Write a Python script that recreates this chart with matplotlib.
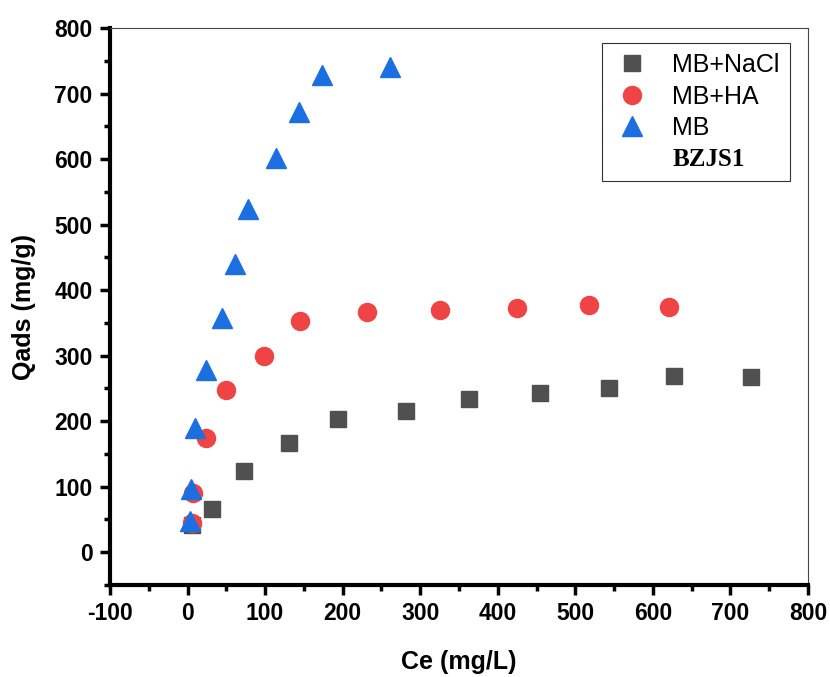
import numpy as np
import matplotlib.pyplot as plt
from matplotlib.lines import Line2D
from matplotlib.ticker import MultipleLocator

# MB + NaCl
ce_nacl = [6, 31, 73, 131, 194, 282, 363, 455, 543, 627, 727]
q_nacl = [41, 66, 124, 167, 203, 215, 234, 243, 251, 269, 268]

# MB + HA
ce_ha = [6, 7, 24, 50, 98, 145, 231, 326, 425, 518, 621]
q_ha = [44, 90, 174, 248, 300, 353, 367, 370, 372, 378, 375]

# MB
ce_mb = [3, 5, 10, 24, 44, 61, 78, 114, 144, 173, 261]
q_mb = [48, 96, 189, 278, 357, 440, 524, 601, 672, 728, 740]

plt.rcParams['font.family'] = ['Liberation Sans', 'DejaVu Sans']
plt.rcParams['axes.unicode_minus'] = False

fig = plt.figure(figsize=(8.3, 6.77), dpi=100)
ax = fig.add_axes([0.1325, 0.1359, 0.841, 0.8227])

ax.plot(ce_nacl, q_nacl, 's', color='#505050', markersize=11, linestyle='none', label='MB+NaCl')
ax.plot(ce_ha, q_ha, 'o', color='#f04343', markersize=13, linestyle='none', label='MB+HA')
ax.plot(ce_mb, q_mb, '^', color='#1c6fe0', markersize=14, linestyle='none', label='MB')

ax.set_xlim(-100, 800)
ax.set_ylim(-50, 800)
ax.xaxis.set_major_locator(MultipleLocator(100))
ax.xaxis.set_minor_locator(MultipleLocator(50))
ax.yaxis.set_major_locator(MultipleLocator(100))
ax.yaxis.set_minor_locator(MultipleLocator(50))

ax.spines['left'].set_linewidth(3)
ax.spines['bottom'].set_linewidth(3)
ax.spines['top'].set_linewidth(0.8)
ax.spines['right'].set_linewidth(0.8)
ax.spines['top'].set_color('#444444')
ax.spines['right'].set_color('#444444')

ax.tick_params(which='major', direction='out', length=7.5, width=2.5, pad=5,
               labelsize=16.5, top=False, right=False)
ax.tick_params(which='minor', direction='out', length=4, width=2.5, top=False, right=False)
for lbl in ax.get_xticklabels() + ax.get_yticklabels():
    lbl.set_fontweight('bold')

ax.set_xlabel('Ce (mg/L)', fontsize=18, fontweight='bold', labelpad=18)
ax.set_ylabel('Qads (mg/g)', fontsize=18, fontweight='bold', labelpad=13)

handles, labels = ax.get_legend_handles_labels()
handles.append(Line2D([], [], linestyle='none', marker=None))
labels.append('BZJS1')
leg = ax.legend(handles, labels, loc='upper right', bbox_to_anchor=(0.974, 0.973),
                fontsize=18, frameon=True, fancybox=False, edgecolor='black',
                handlelength=1.6, handletextpad=0.8, labelspacing=0.3,
                borderpad=0.4, borderaxespad=0)
leg.get_frame().set_linewidth(0.8)
txt = leg.get_texts()[-1]
txt.set_fontfamily('Liberation Serif')
txt.set_fontweight('bold')
txt.set_fontsize(18)

fig.savefig('out.png', dpi=100)
